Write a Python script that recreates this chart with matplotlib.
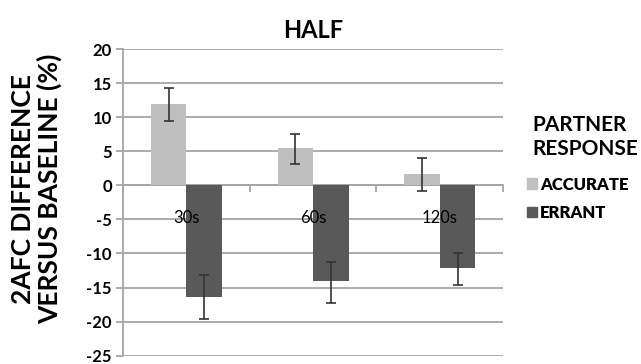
import numpy as np
import matplotlib.pyplot as plt
from matplotlib.patches import Patch

plt.rcParams['font.family'] = ['Lato', 'DejaVu Sans']

# Werte
categories = ["30s", "60s", "120s"]
accurate = [11.9, 5.5, 1.7]
accurate_err_hi = [14.3, 7.5, 4.0]
accurate_err_lo = [9.4, 3.2, -0.8]
errant = [-16.4, -14.0, -12.1]
errant_err_hi = [-13.1, -11.2, -10.0]
errant_err_lo = [-19.6, -17.2, -14.6]
yticks = [20, 15, 10, 5, 0, -5, -10, -15, -20, -25]

c_acc = '#bfbfbf'
c_err = '#595959'
c_grid = '#a6a6a6'

fig = plt.figure(figsize=(6.41, 3.64), dpi=100)
ax = fig.add_axes([0.192, 0.023, 0.593, 0.842])

x = np.arange(len(categories)) + 0.5
w = 0.28

acc = np.array(accurate)
err = np.array(errant)
acc_yerr = [acc - np.array(accurate_err_lo), np.array(accurate_err_hi) - acc]
err_yerr = [err - np.array(errant_err_lo), np.array(errant_err_hi) - err]

ax.bar(x - w / 2, acc, w, color=c_acc, zorder=2)
ax.bar(x + w / 2, err, w, color=c_err, zorder=2)
ax.errorbar(x - w / 2, acc, yerr=acc_yerr, fmt='none', ecolor='#333333',
            elinewidth=1.2, capsize=3.5, capthick=1.2, zorder=3)
ax.errorbar(x + w / 2, err, yerr=err_yerr, fmt='none', ecolor='#333333',
            elinewidth=1.2, capsize=3.5, capthick=1.2, zorder=3)

ax.set_xlim(0, 3)
ax.set_ylim(-25, 20)
ax.set_yticks(yticks)
ax.set_yticklabels([str(t) for t in yticks], fontsize=12, fontweight='bold')
ax.yaxis.grid(True, color=c_grid, linewidth=1.3, zorder=0)
ax.set_axisbelow(True)

for s in ['top', 'right']:
    ax.spines[s].set_visible(False)
ax.spines['left'].set_color(c_grid)
ax.spines['left'].set_linewidth(1.3)
ax.spines['bottom'].set_position(('data', 0))
ax.spines['bottom'].set_color(c_grid)
ax.spines['bottom'].set_linewidth(1.3)
ax.spines['bottom'].set_zorder(1)

ax.tick_params(axis='y', length=5, color=c_grid, width=1.3, pad=3)
ax.set_xticks([0, 1, 2, 3])
ax.set_xticklabels([])
ax.tick_params(axis='x', which='major', length=5, color=c_grid, width=1.3)
ax.set_xticks(x, minor=True)
ax.set_xticklabels(categories, minor=True, fontsize=12)
ax.tick_params(axis='x', which='minor', length=0, pad=18)
ax.xaxis.set_zorder(5)

ax.set_title("HALF", fontsize=17, fontweight='bold', pad=8)
fig.text(0.057, 0.48, "2AFC DIFFERENCE\nVERSUS BASELINE (%)", rotation=90,
         ha='center', va='center', fontsize=19, fontweight='bold',
         linespacing=1.1)

fig.text(0.831, 0.685, "PARTNER\nRESPONSE", ha='left', va='top',
         fontsize=15, fontweight='bold', linespacing=1.3)
handles = [Patch(color=c_acc, label="ACCURATE"), Patch(color=c_err, label="ERRANT")]
leg = fig.legend(handles=handles, loc='upper left', bbox_to_anchor=(0.822, 0.515),
                 frameon=False, prop={'size': 12, 'weight': 'heavy'},
                 handlelength=0.6, handleheight=0.6, handletextpad=0.2,
                 labelspacing=0.75, borderaxespad=0, borderpad=0)

fig.savefig("out.png", dpi=100)
